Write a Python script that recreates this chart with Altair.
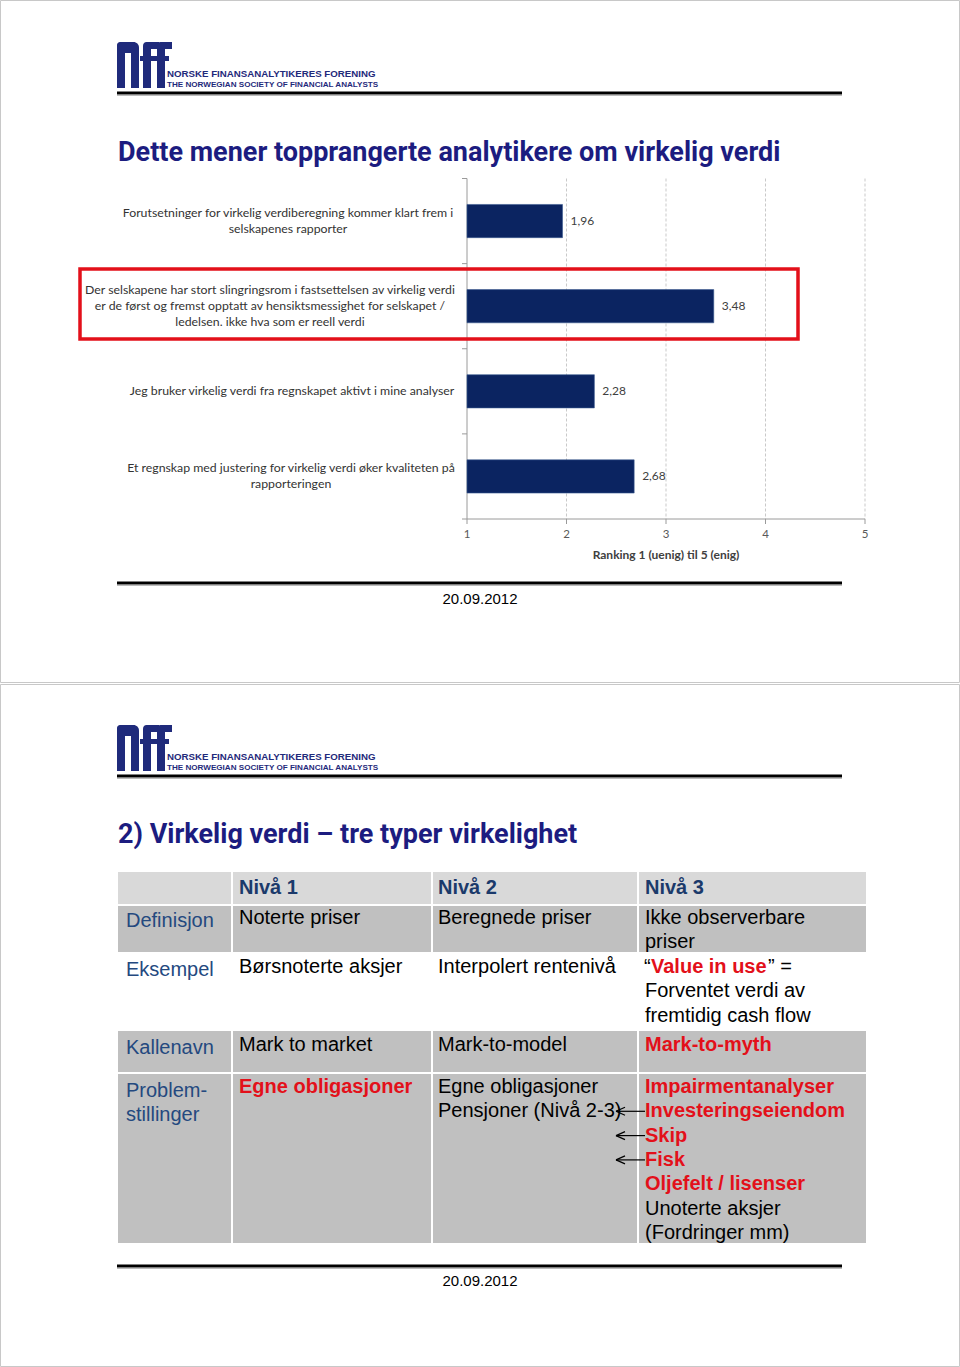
import altair as alt
import pandas as pd

W, H = 960, 1367

# ---------------- data ----------------
categories = [
    "Forutsetninger for virkelig verdiberegning kommer klart frem i\nselskapenes rapporter",
    "Der selskapene har stort slingringsrom i fastsettelsen av virkelig verdi\ner de først og fremst opptatt av hensiktsmessighet for selskapet /\nledelsen. ikke hva som er reell verdi",
    "Jeg bruker virkelig verdi fra regnskapet aktivt i mine analyser",
    "Et regnskap med justering for virkelig verdi øker kvaliteten på\nrapporteringen",
]
values = [1.96, 3.48, 2.28, 2.68]
ticks = [1, 2, 3, 4, 5]
axis_title = "Ranking 1 (uenig) til 5 (enig)"

title1 = "Dette mener topprangerte analytikere om virkelig verdi"
title2 = "2) Virkelig verdi \u2013 tre typer virkelighet"
date_text = "20.09.2012"
org_line1 = "NORSKE FINANSANALYTIKERES FORENING"
org_line2 = "THE NORWEGIAN SOCIETY OF FINANCIAL ANALYSTS"

col_headers = ["Niv\u00e5 1", "Niv\u00e5 2", "Niv\u00e5 3"]
row_labels = [["Definisjon"], ["Eksempel"], ["Kallenavn"], ["Problem-", "stillinger"]]
cells = [
    (0, 0, [["Noterte priser"]]),
    (0, 1, [["Beregnede priser"]]),
    (0, 2, [["Ikke observerbare"], ["priser"]]),
    (1, 0, [["B\u00f8rsnoterte aksjer"]]),
    (1, 1, [["Interpolert renteniv\u00e5"]]),
    (2, 0, [["Mark to market"]]),
    (2, 1, [["Mark-to-model"]]),
    (2, 2, [["Mark-to-myth", "red"]]),
    (3, 0, [["Egne obligasjoner", "red"]]),
    (3, 1, [["Egne obligasjoner"], ["Pensjoner (Niv\u00e5 2-3)"]]),
    (3, 2, [["Impairmentanalyser", "red"], ["Investeringseiendom", "red"], ["Skip", "red"],
            ["Fisk", "red"], ["Oljefelt / lisenser", "red"], ["Unoterte aksjer"],
            ["(Fordringer mm)"]]),
]
value_in_use = ["\u201c", "Value in use", "\u201d ="]
value_in_use_rest = ["Forventet verdi av", "fremtidig cash flow"]
arrow_lines = [1, 2, 3]

# ---------------- layout ----------------
PX = alt.Scale(domain=[0, W], range=[0, W], zero=False, nice=False)
PY = alt.Scale(domain=[0, H], range=[0, H], zero=False, nice=False)

NAVY = "#1c1c80"
LOGO = "#1f2a7b"
RED = "#e3101a"
TITLEFONT = "Roboto, Liberation Sans, sans-serif"
ARIAL = "Liberation Sans, Arial, sans-serif"
CAL = "Lato, Carlito, Calibri, sans-serif"


def texts(rows, **mk):
    df = pd.DataFrame(rows, columns=["x", "y", "t"])
    mk.setdefault("baseline", "middle")
    mk.setdefault("align", "left")
    return alt.Chart(df).mark_text(**mk).encode(
        x=alt.X("x:Q", scale=PX, axis=None),
        y=alt.Y("y:Q", scale=PY, axis=None),
        text="t:N",
    )


def rules(rows, **mk):
    df = pd.DataFrame(rows, columns=["x", "x2", "y", "y2"])
    return alt.Chart(df).mark_rule(**mk).encode(
        x=alt.X("x:Q", scale=PX, axis=None), x2="x2:Q",
        y=alt.Y("y:Q", scale=PY, axis=None), y2="y2:Q",
    )


def rects(rows, **mk):
    df = pd.DataFrame(rows, columns=["x", "x2", "y", "y2", "c"])
    return alt.Chart(df).mark_rect(**mk).encode(
        x=alt.X("x:Q", scale=PX, axis=None), x2="x2:Q",
        y=alt.Y("y:Q", scale=PY, axis=None), y2="y2:Q",
        color=alt.Color("c:N", scale=None),
    )


layers = []

# page frames
layers.append(rects([[0.5, 959.5, 0.5, 682.5, "white"], [0.5, 959.5, 684.5, 1366.5, "white"]],
                    stroke="#c8c8c8", strokeWidth=1))

# headers / footers for both pages
for off in (0, 683):
    stems = [
        [117, 125, 49 + off, 88 + off, LOGO],   # n left stem
        [131, 139, 51 + off, 88 + off, LOGO],   # n right stem
        [143, 151, 47 + off, 88 + off, LOGO],   # f1 stem
        [157, 165, 47 + off, 88 + off, LOGO],   # f2 stem
        [140, 155, 56 + off, 61 + off, LOGO],   # f1 bar
        [154, 169, 56 + off, 61 + off, LOGO],   # f2 bar
    ]
    layers.append(rects(stems))
    layers.append(rects([[117, 139, 42 + off, 53 + off, LOGO]], cornerRadiusTopRight=10,
                        cornerRadiusTopLeft=3))
    layers.append(rects([[143, 159, 42 + off, 49 + off, LOGO], [157, 172, 42 + off, 49 + off, LOGO]],
                        cornerRadiusTopLeft=7))
    layers.append(texts([[167, 74 + off, org_line1]], font=ARIAL, fontSize=9.7,
                        fontWeight="bold", color=LOGO))
    layers.append(texts([[167, 85 + off, org_line2]], font=ARIAL, fontSize=8.1,
                        fontWeight="bold", color=LOGO))
layers.append(rules([[117, 842, 93, 93], [117, 842, 776, 776], [117, 842, 583, 583],
                     [117, 842, 1266, 1266]], color="black", strokeWidth=3))
layers.append(rules([[117, 842, 95.5, 95.5], [117, 842, 778.5, 778.5], [117, 842, 585.5, 585.5],
                     [117, 842, 1268.5, 1268.5]], color="#bbbbbb", strokeWidth=1))
layers.append(texts([[480, 599, date_text], [480, 1281, date_text]], align="center",
                    font=ARIAL, fontSize=15, color="black"))

# titles
layers.append(texts([[118, 153, title1], [118, 835, title2]], font=TITLEFONT, fontSize=27,
                    fontWeight="bold", color=NAVY))

# ---------------- bar chart ----------------
BX = alt.Scale(domain=[1, 5], range=[467, 865], zero=False, nice=False)
BY = alt.Scale(domain=categories, range=[178.5, 519], paddingInner=0.61, paddingOuter=0.305)
BI = alt.Scale(domain=[0, 4], range=[178.5, 519], zero=False, nice=False)
STEP = (519 - 178.5) / len(categories)

bdf = pd.DataFrame({"cat": categories, "v": values,
                    "lab": [f"{v:.2f}".replace(".", ",") for v in values]})
tdf = pd.DataFrame({"t": ticks})
bdry = pd.DataFrame({"i": list(range(len(categories) + 1))})

grid = alt.Chart(tdf[tdf.t > 1]).mark_rule(color="#c9c9c9", strokeDash=[3, 2], strokeWidth=1).encode(
    x=alt.X("t:Q", scale=BX, axis=None), y=alt.value(178.5), y2=alt.value(519))
xaxis = alt.Chart(tdf.head(1)).mark_rule(color="#9a9a9a", strokeWidth=1).encode(
    x=alt.X("t:Q", scale=BX, axis=None), x2=alt.datum(5), y=alt.value(519))
yaxis = alt.Chart(tdf.head(1)).mark_rule(color="#9a9a9a", strokeWidth=1).encode(
    x=alt.X("t:Q", scale=BX, axis=None), y=alt.value(178.5), y2=alt.value(519))
xticks = alt.Chart(tdf).mark_rule(color="#9a9a9a", strokeWidth=1).encode(
    x=alt.X("t:Q", scale=BX, axis=None), y=alt.value(519), y2=alt.value(524))
yticks = alt.Chart(bdry).mark_rule(color="#9a9a9a", strokeWidth=1).encode(
    y=alt.Y("i:Q", scale=BI, axis=None), x=alt.value(462), x2=alt.value(467))
xlabels = alt.Chart(tdf).mark_text(font=CAL, fontSize=11.5, color="#595959", baseline="middle").encode(
    x=alt.X("t:Q", scale=BX, axis=None), y=alt.value(535), text="t:N")
xtitle = alt.Chart(pd.DataFrame({"t": [axis_title]})).mark_text(
    font=CAL, fontSize=12, fontWeight="bold", color="#404040", baseline="middle").encode(
    x=alt.value(666), y=alt.value(555), text="t:N")
bars = alt.Chart(bdf).mark_bar(color="#0b2461", stroke="#3a5a90", strokeWidth=0.6).encode(
    x=alt.X("v:Q", scale=BX, axis=None), x2=alt.datum(1),
    y=alt.Y("cat:N", scale=BY, axis=None, sort=None))
vlabels = alt.Chart(bdf).mark_text(align="left", dx=8, font=CAL, fontSize=12, color="#404040",
                                   baseline="middle").encode(
    x=alt.X("v:Q", scale=BX, axis=None), y=alt.Y("cat:N", scale=BY, axis=None, sort=None),
    text="lab:N")

label_cx = [288, 270, 292, 291]
LINE = 16
crow = []
for i, cat in enumerate(categories):
    parts = cat.split("\n")
    n = len(parts)
    for k, p in enumerate(parts):
        crow.append({"yy": i + 0.5 + (k - (n - 1) / 2) * LINE / STEP, "cx": label_cx[i], "t": p})
cdf = pd.DataFrame(crow)
clabels = alt.Chart(cdf).mark_text(align="center", baseline="middle",
                                   font=CAL, fontSize=12.3, color="#333333").encode(
    x=alt.X("cx:Q", scale=PX, axis=None), y=alt.Y("yy:Q", scale=BI, axis=None),
    text="t:N")
layers += [grid, xaxis, yaxis, xticks, yticks, bars, vlabels, clabels, xlabels, xtitle]

# red highlight box
layers.append(rects([[80, 798, 269, 339, "white"]], fillOpacity=0, stroke=RED, strokeWidth=3.5))

# ---------------- table ----------------
col_edges = [(118, 231), (233, 431), (433, 637), (639, 866)]
row_edges = [(872, 904, "#d9d9d9"), (906, 952, "#c0c0c0"), (953, 1029, "#ffffff"),
             (1031, 1072, "#c0c0c0"), (1074, 1243, "#c0c0c0")]
cell_rows = []
for (y1, y2, c) in row_edges:
    for (x1, x2) in col_edges:
        cell_rows.append([x1, x2, y1, y2, c])
layers.append(rects(cell_rows))

text_x = [239, 438, 645]
label_x = 126
line_h = 24.3
row_first = [918, 967, 1045, 1087]
label_first = [921, 970, 1048, 1091]

hdr = [[text_x[i], 888, h] for i, h in enumerate(col_headers)]
layers.append(texts(hdr, font=ARIAL, fontSize=20, fontWeight="bold", color="#1b3a6b"))

lab = []
for r, lines in enumerate(row_labels):
    for k, t in enumerate(lines):
        lab.append([label_x, label_first[r] + k * line_h, t])
layers.append(texts(lab, font=ARIAL, fontSize=20, color="#24497f"))

body, red = [], []
for r, c, lines in cells:
    for k, ln in enumerate(lines):
        row = [text_x[c], row_first[r] + k * line_h, ln[0]]
        (red if len(ln) > 1 else body).append(row)
y_viu = row_first[1]
body.append([text_x[2] - 1, y_viu, value_in_use[0]])
red.append([text_x[2] + 6, y_viu, value_in_use[1]])
body.append([text_x[2] + 123, y_viu, value_in_use[2]])
for k, t in enumerate(value_in_use_rest):
    body.append([text_x[2], y_viu + (k + 1) * line_h, t])
layers.append(texts(body, font=ARIAL, fontSize=20, color="black"))
layers.append(texts(red, font=ARIAL, fontSize=20, fontWeight="bold", color=RED))

arr = []
for k in arrow_lines:
    y = row_first[3] + k * line_h
    arr.append([616, 645, y, y])
    arr.append([616, 625, y, y - 4])
    arr.append([616, 625, y, y + 4])
layers.append(rules(arr, color="black", strokeWidth=1.2))

chart = alt.layer(*layers).resolve_scale(x="independent", y="independent", color="independent").properties(
    width=W, height=H, padding=0, autosize=alt.AutoSizeParams(type="none"),
    background="white").configure_view(stroke=None)

chart.save("out.html", embed_options={"renderer": "svg", "actions": False})
